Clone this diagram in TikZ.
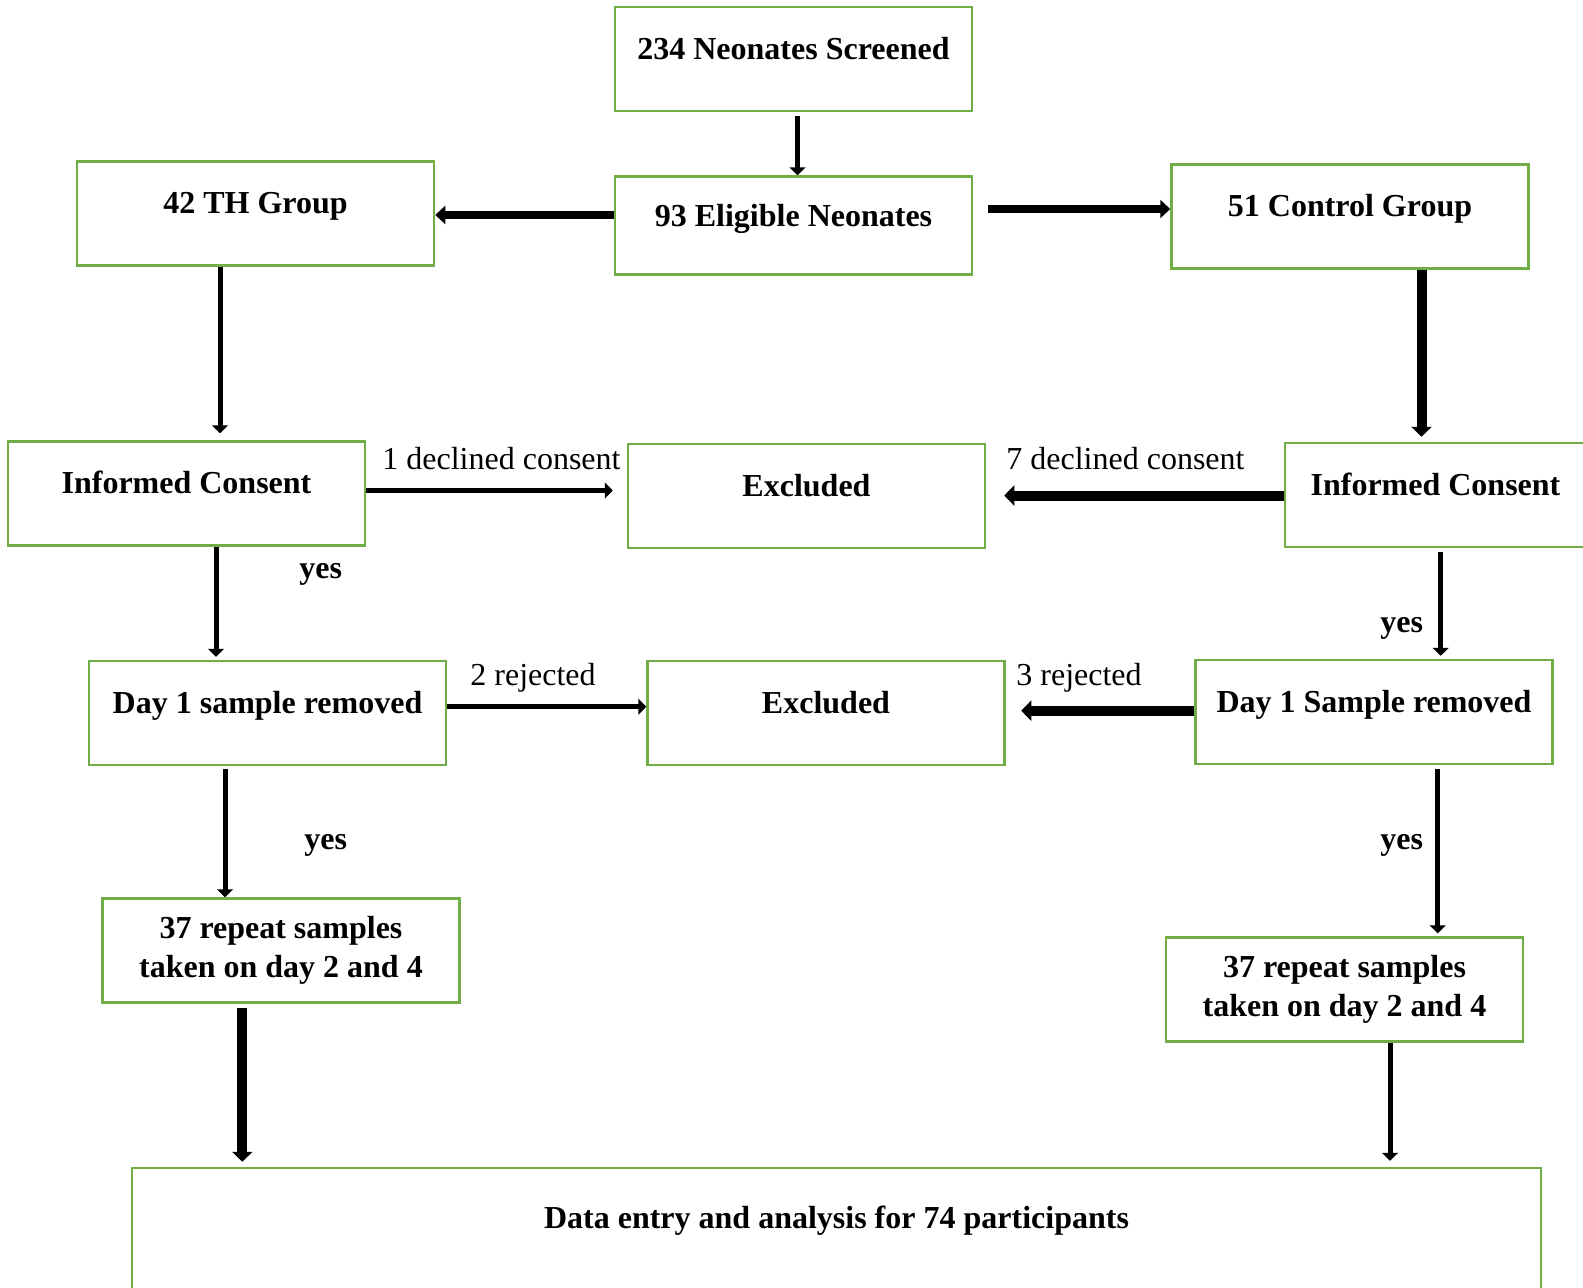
\documentclass[tikz,border=0pt]{standalone}
\usepackage{fontspec}
\setmainfont{Liberation Serif}
\usetikzlibrary{arrows.meta}
\definecolor{boxgreen}{HTML}{70AD47}
\tikzset{
  box/.style={draw=boxgreen, line width=1.25pt, minimum width=178.5pt, inner xsep=0pt, inner ysep=0pt,
    font=\bfseries\fontsize{16}{19.5}\selectfont},
  oneline/.style={text height=26pt, text depth=26pt},
  twoline/.style={minimum height=52pt, align=center},
  arr/.style={line width=2.5pt, -{Triangle[width=8pt,length=4pt]}},
  arrmid/.style={line width=4pt, -{Triangle[width=9pt,length=5pt]}},
  arrbig/.style={line width=5pt, -{Triangle[width=10pt,length=5pt]}},
  lbl/.style={anchor=base west, inner sep=0pt, font=\fontsize{16}{19.5}\selectfont},
  yes/.style={lbl, font=\bfseries\fontsize{16}{19.5}\selectfont}
}
\begin{document}
\begin{tikzpicture}[x=0.5pt,y=-0.5pt]
\useasboundingbox (0,0) rectangle (1583,1287);

\node[box,oneline] (scr) at (793.5,59) {234 Neonates Screened};
\node[box,text height=25pt,text depth=24pt] (elig) at (793.5,225.5) {93 Eligible Neonates};
\node[box,oneline] (th) at (255.5,213.5) {42 TH Group};
\node[box,oneline] (ctrl) at (1350,216.5) {51 Control Group};
\node[box,oneline] (inf1) at (186.5,493.5) {Informed Consent};
\node[box,oneline] (exc1) at (806.5,496) {Excluded};
\node[box,oneline,minimum width=150.5pt] (inf2) at (1435.5,495) {Informed Consent};
\node[box,oneline] (day1a) at (267.5,713) {Day 1 sample removed};
\node[box,oneline] (exc2) at (826,713) {Excluded};
\node[box,oneline] (day1b) at (1374,712) {Day 1 Sample removed};
\node[box,twoline] (rep1) at (281,950.5) {37 repeat samples\\taken on day 2 and 4};
\node[box,twoline] (rep2) at (1344.5,989.5) {37 repeat samples\\taken on day 2 and 4};
\node[box,minimum width=704.5pt,text height=30pt,text depth=40pt] (data) at (836.5,1238)
  {Data entry and analysis for 74 participants};

\node[lbl] (l1) at (382,469) {1 declined consent};
\node[lbl] (l2) at (1006,469) {7 declined consent};
\node[lbl] (l3) at (470,685) {2 rejected};
\node[lbl] (l4) at (1016,685) {3 rejected};
\node[yes] (y1) at (299,578) {yes};
\node[yes] (y2) at (1380,632) {yes};
\node[yes] (y3) at (304,849) {yes};
\node[yes] (y4) at (1380,849) {yes};

\path[draw,arr,shorten <=2pt] ([shift={(4,0)}]scr.south) -- ([shift={(4,0)}]elig.north);
\path[draw,arrmid] ([shift={(0,-10.5)}]elig.west) -- ([shift={(0,1.5)}]th.east);
\path[draw,arrmid,shorten <=7.5pt] ([shift={(0,-16.5)}]elig.east) -- ([shift={(0,-7.5)}]ctrl.west);
\path[draw,arrbig,shorten >=2.5pt] ([shift={(71.5,0)}]ctrl.south) -- ([shift={(-14,0)}]inf2.north);
\path[draw,arr,shorten >=3.5pt] ([shift={(-35.5,0)}]th.south) -- ([shift={(33.5,0)}]inf1.north);
\path[draw,arr,shorten >=7pt] ([shift={(0,-3)}]inf1.east) -- ([shift={(0,-5.5)}]exc1.west);
\path[draw,arrbig,shorten >=9pt] ([shift={(0,0.5)}]inf2.west) -- ([shift={(0,-0.5)}]exc1.east);
\path[draw,arr,shorten >=1.5pt] ([shift={(29.5,0)}]inf1.south) -- ([shift={(-51.5,0)}]day1a.north);
\path[draw,arr,shorten <=2pt,shorten >=1.5pt] ([shift={(5.2,0)}]inf2.south) -- ([shift={(66.7,0)}]day1b.north);
\path[draw,arr] ([shift={(0,-6.3)}]day1a.east) -- ([shift={(0,-6.3)}]exc2.west);
\path[draw,arrbig,shorten >=7.75pt] ([shift={(0,-1.3)}]day1b.west) -- ([shift={(0,-2.3)}]exc2.east);
\path[draw,arr,shorten <=1.5pt] ([shift={(-42.5,0)}]day1a.south) -- ([shift={(-56,0)}]rep1.north);
\path[draw,arr,shorten <=2pt,shorten >=1.5pt] ([shift={(63.7,0)}]day1b.south) -- ([shift={(93.2,0)}]rep2.north);
\path[draw,arrbig,shorten <=2pt,shorten >=2.5pt] ([shift={(-38.7,0)}]rep1.south) -- ([shift={(-594.2,0)}]data.north);
\path[draw,arr,shorten >=3pt] ([shift={(45.5,0)}]rep2.south) -- ([shift={(553.5,0)}]data.north);
\end{tikzpicture}
\end{document}
